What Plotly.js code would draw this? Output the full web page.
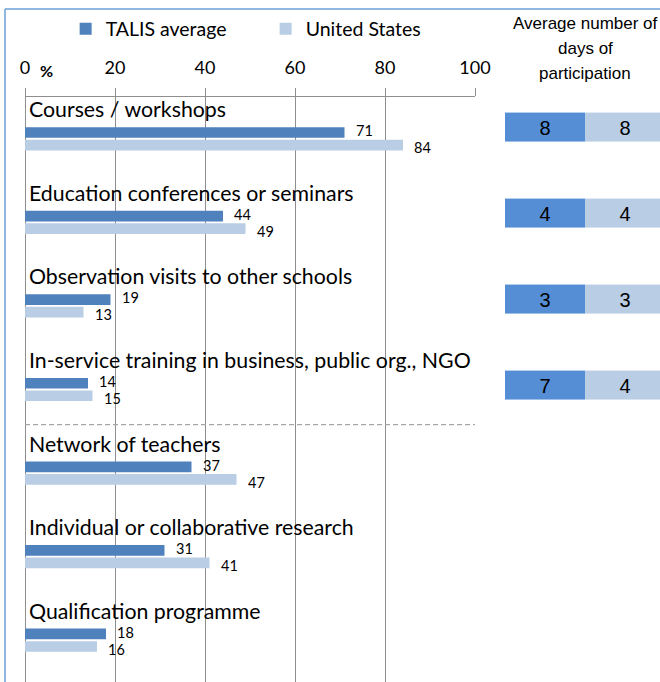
<!DOCTYPE html>
<html>
<head>
<meta charset="utf-8">
<script src="https://cdn.plot.ly/plotly-3.0.1.min.js"></script>
<style>
html,body{margin:0;padding:0;background:#fff;}
#chart{width:660px;height:682px;}
</style>
</head>
<body>
<div id="chart"></div>
<script>
const categories = [
  "Courses / workshops",
  "Education conferences or seminars",
  "Observation visits to other schools",
  "In-service training in business, public org., NGO",
  "Network of teachers",
  "Individual or collaborative research",
  "Qualification programme"
];
const seriesNames = ["TALIS average", "United States"];
const talisValues = [71, 44, 19, 14, 37, 31, 18];
const usValues = [84, 49, 13, 15, 47, 41, 16];
const dayCategories = categories.slice(0, 4);
const talisDays = [8, 4, 3, 7];
const usDays = [8, 4, 3, 4];
const tickValues = [0, 20, 40, 60, 80, 100];

const darkBar = "#4F81BD";
const lightBar = "#B9CDE5";
const darkBox = "#558ED5";
const gridGray = "#8E8E8E";
const labelFont = "Lato, 'Open Sans', sans-serif";

const traces = [
  {
    type: "bar", orientation: "h", name: seriesNames[0],
    y: categories, x: talisValues, marker: {color: darkBar},
    xaxis: "x", yaxis: "y", hoverinfo: "x"
  },
  {
    type: "bar", orientation: "h", name: seriesNames[1],
    y: categories, x: usValues, marker: {color: lightBar},
    xaxis: "x", yaxis: "y", hoverinfo: "x"
  },
  {
    type: "heatmap",
    x: seriesNames,
    y: dayCategories,
    z: dayCategories.map(() => [0, 1]),
    text: dayCategories.map((c, i) => [String(talisDays[i]), String(usDays[i])]),
    texttemplate: "%{text}",
    textfont: {family: "'Liberation Sans', Arial, sans-serif", size: 20, color: "#000"},
    colorscale: [[0, darkBox], [1, lightBar]],
    zmin: 0, zmax: 1,
    showscale: false, ygap: 57, xgap: 0,
    xaxis: "x2", yaxis: "y2", hoverinfo: "skip", showlegend: false
  }
];

const annotations = [];
categories.forEach((c, i) => {
  annotations.push({
    xref: "x", yref: "y", x: 0, y: c, xanchor: "left", yanchor: "middle",
    xshift: 3, yshift: 29.5, showarrow: false, text: c, borderpad: 0,
    font: {family: labelFont, size: 21.3, color: "#000"}
  });
  annotations.push({
    xref: "x", yref: "y", x: talisValues[i], y: c, xanchor: "left", yanchor: "middle",
    xshift: 10, yshift: 8, showarrow: false, text: String(talisValues[i]), borderpad: 0,
    font: {family: labelFont, size: 14.5, color: "#000"}
  });
  annotations.push({
    xref: "x", yref: "y", x: usValues[i], y: c, xanchor: "left", yanchor: "middle",
    xshift: 10, yshift: -9, showarrow: false, text: String(usValues[i]), borderpad: 0,
    font: {family: labelFont, size: 14.5, color: "#000"}
  });
});
annotations.push({
  xref: "paper", yref: "paper", x: 0.0339, y: 1.0453, xanchor: "center", yanchor: "middle",
  showarrow: false, text: "<b>%</b>", font: {family: labelFont, size: 16, color: "#000"}
});
const headerLines = ["Average number of", "days of", "participation"];
const headerY = [1.1248, 1.0829, 1.041];
headerLines.forEach((t, i) => {
  annotations.push({
    xref: "paper", yref: "paper", x: 0.8819, y: headerY[i], xanchor: "center", yanchor: "middle",
    showarrow: false, text: t,
    font: {family: "'Liberation Sans', Arial, sans-serif", size: 17, color: "#000"}
  });
});

const layout = {
  width: 660, height: 682,
  margin: {l: 25, r: 0, t: 97, b: 0, pad: 0},
  paper_bgcolor: "#fff", plot_bgcolor: "rgba(0,0,0,0)",
  barmode: "group", bargap: 0.70, bargroupgap: 0.15,
  showlegend: true,
  legend: {
    orientation: "h", x: 0.064, y: 1.116, xanchor: "left", yanchor: "middle",
    font: {family: labelFont, size: 19.5, color: "#000"},
    entrywidth: 155, entrywidthmode: "pixels", bgcolor: "rgba(0,0,0,0)"
  },
  xaxis: {
    domain: [0, 0.70866], range: [0, 100], side: "top", anchor: "y",
    tickvals: tickValues, ticktext: tickValues.map(String),
    showgrid: true, gridcolor: gridGray, gridwidth: 1,
    zeroline: true, zerolinecolor: gridGray, zerolinewidth: 1,
    showline: true, linecolor: gridGray, linewidth: 1,
    ticks: "outside", ticklen: 8, tickcolor: gridGray,
    tickfont: {family: labelFont, size: 18, color: "#000"},
    ticklabelstandoff: 7, fixedrange: true
  },
  yaxis: {
    domain: [0, 1], type: "category", categoryarray: categories, categoryorder: "array",
    range: [6.5, -0.5], showticklabels: false, showgrid: false, zeroline: false,
    showline: false, ticks: "", anchor: "x", fixedrange: true
  },
  xaxis2: {
    domain: [0.7559, 1], range: [-0.5, 1.4375], type: "category", visible: false, anchor: "y2", fixedrange: true
  },
  yaxis2: {
    domain: [0, 1], type: "category", categoryarray: dayCategories, categoryorder: "array",
    range: [6.448, -0.355], visible: false, anchor: "x2", fixedrange: true
  },
  shapes: [
    {type: "line", xref: "x", yref: "y", x0: 0, x1: 100, y0: 3.42, y1: 3.42,
     line: {color: "#A6A6A6", width: 1.2, dash: "5px,3px"}},
    {type: "line", xref: "paper", yref: "paper", x0: -0.0315, x1: -0.0315, y0: -0.01, y1: 1.1504,
     line: {color: "#6A9FD4", width: 1.5}},
    {type: "line", xref: "paper", yref: "paper", x0: -0.0315, x1: 1.01, y0: 1.1504, y1: 1.1504,
     line: {color: "#6A9FD4", width: 1.5}}
  ],
  annotations: annotations
};

Plotly.newPlot("chart", traces, layout, {displayModeBar: false, staticPlot: true});
</script>
</body>
</html>
